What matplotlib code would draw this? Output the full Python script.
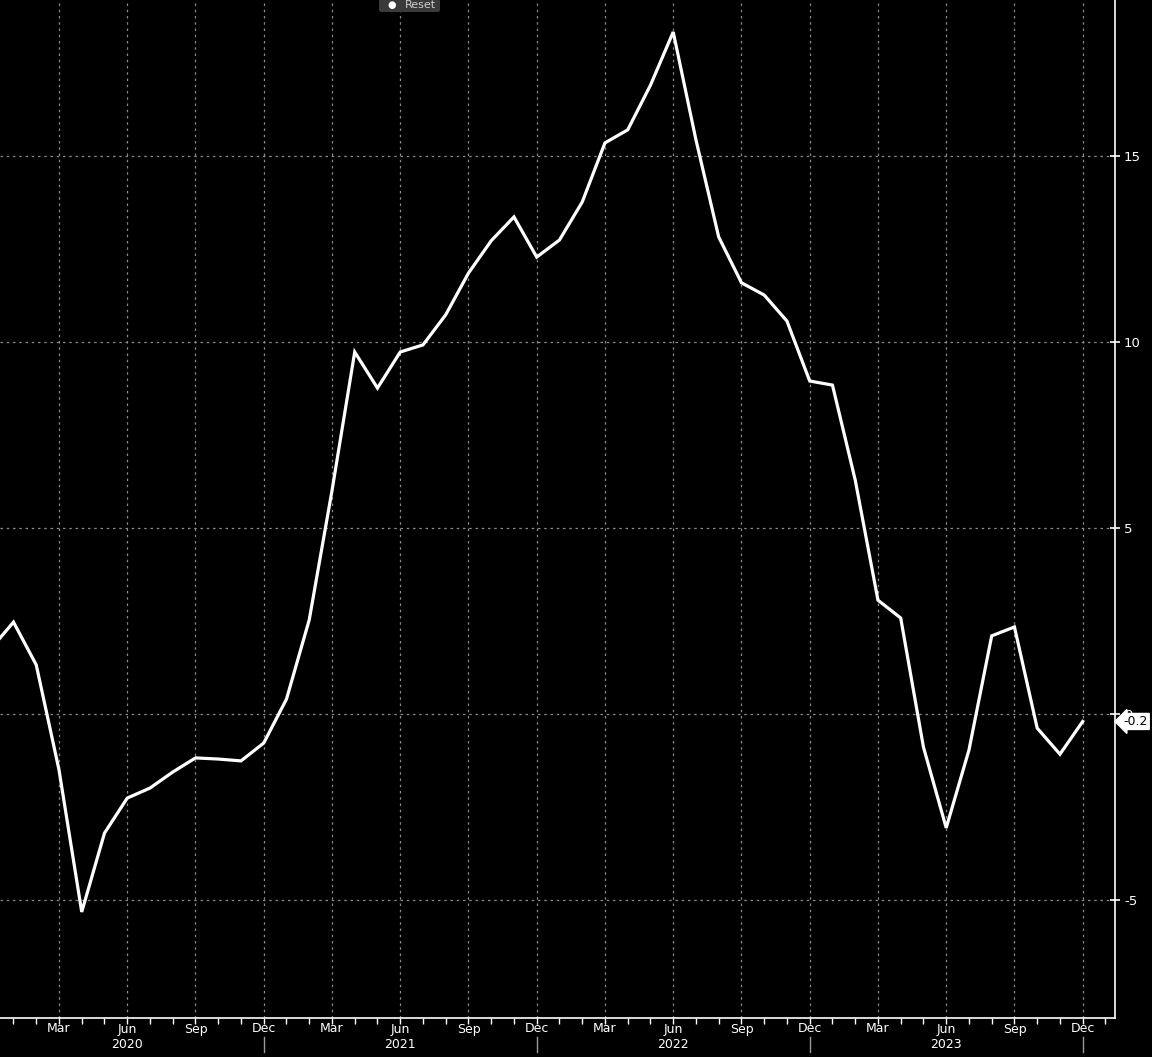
import matplotlib
matplotlib.use("Agg")
import matplotlib.pyplot as plt
from matplotlib.patches import FancyBboxPatch

# Monthly values, Dec 2019 .. Dec 2023
months = ["Dec 2019",
          "Jan 2020", "Feb 2020", "Mar 2020", "Apr 2020", "May 2020", "Jun 2020",
          "Jul 2020", "Aug 2020", "Sep 2020", "Oct 2020", "Nov 2020", "Dec 2020",
          "Jan 2021", "Feb 2021", "Mar 2021", "Apr 2021", "May 2021", "Jun 2021",
          "Jul 2021", "Aug 2021", "Sep 2021", "Oct 2021", "Nov 2021", "Dec 2021",
          "Jan 2022", "Feb 2022", "Mar 2022", "Apr 2022", "May 2022", "Jun 2022",
          "Jul 2022", "Aug 2022", "Sep 2022", "Oct 2022", "Nov 2022", "Dec 2022",
          "Jan 2023", "Feb 2023", "Mar 2023", "Apr 2023", "May 2023", "Jun 2023",
          "Jul 2023", "Aug 2023", "Sep 2023", "Oct 2023", "Nov 2023", "Dec 2023"]
values = [1.75,
          2.47, 1.32, -1.5, -5.32, -3.2, -2.26,
          -1.99, -1.56, -1.18, -1.21, -1.26, -0.78,
          0.4, 2.53, 6.0, 9.73, 8.76, 9.73,
          9.92, 10.73, 11.85, 12.72, 13.36, 12.28,
          12.74, 13.76, 15.35, 15.7, 16.9, 18.33,
          15.43, 12.82, 11.59, 11.26, 10.56, 8.95,
          8.84, 6.29, 3.06, 2.58, -0.89, -3.06,
          -0.97, 2.1, 2.34, -0.38, -1.08, -0.2]
y_ticks = [-5, 0, 5, 10, 15]
quarter_labels = ["Mar", "Jun", "Sep", "Dec"]
years = ["2020", "2021", "2022", "2023"]

W, H = 1152, 1057
fig = plt.figure(figsize=(W / 100, H / 100), dpi=100, facecolor="black")
ax = fig.add_axes([0, 39 / H, 1115 / W, 1 - 39 / H], facecolor="black")

x = list(range(-1, len(values) - 1))  # 0 = Jan 2020
ax.plot(x, values, color="white", lw=2.3, solid_joinstyle="miter", zorder=3)

XMIN, XMAX = -0.593, 48.42
ax.set_ylim(-8.17, 19.19)

# grid
qx = [m for m in range(0, 48) if m % 3 == 2]  # Mar, Jun, Sep, Dec
for q in qx:
    ax.axvline(q, color="#8a8a8a", lw=0.9, ls=(0, (2, 3)), zorder=1)
for yt in y_ticks:
    ax.axhline(yt, color="#8a8a8a", lw=0.9, ls=(0, (2, 3)), zorder=1)

# spines
for s in ["left", "top"]:
    ax.spines[s].set_visible(False)
ax.spines["right"].set_color("white")
ax.spines["bottom"].set_color("white")
ax.spines["right"].set_linewidth(1.2)
ax.spines["bottom"].set_linewidth(1.2)

# y ticks on the right
ax.yaxis.tick_right()
ax.set_yticks(y_ticks)
ax.set_yticklabels([str(v) for v in y_ticks], color="white", fontsize=9.5,
                   family="DejaVu Sans")
ax.tick_params(axis="y", direction="inout", length=7, width=1.2, color="white", pad=3)

# x ticks: monthly minor ticks, quarter labels
ax.set_xticks(list(range(0, 49)))
ax.set_xticklabels([])
ax.tick_params(axis="x", direction="out", length=4, width=1.0, color="white")
ax.set_xlim(XMIN, XMAX)
trans = ax.get_xaxis_transform()
for q in qx:
    lab = quarter_labels[(q - 2) // 3 % 4]
    ax.text(q, -11 / (H - 39), lab, transform=trans, color="white", fontsize=9,
            ha="center", va="center", family="DejaVu Sans", clip_on=False)
for i, yr in enumerate(years):
    jun = 5 + 12 * i
    ax.text(jun, -27 / (H - 39), yr, transform=trans, color="white", fontsize=9,
            ha="center", va="center", family="DejaVu Sans", clip_on=False)
    dec = 11 + 12 * i
    ax.plot([dec, dec], [-19 / (H - 39), -34 / (H - 39)], transform=trans,
            color="#9a9a9a", lw=1.0, clip_on=False, scalex=False, scaley=False)
ax.set_xlim(XMIN, XMAX)

# last value label
last = values[-1]
ax.annotate(f"{last:.1f}", xy=(1.0, last), xycoords=("axes fraction", "data"),
            xytext=(6, 0), textcoords="offset points", ha="left", va="center",
            color="black", fontsize=9, family="DejaVu Sans", zorder=5,
            bbox=dict(boxstyle="larrow,pad=0.12", fc="white", ec="white"),
            annotation_clip=False)

# Reset button
fig.patches.append(FancyBboxPatch((379 / W, 1 - 12 / H), 61 / W, 15 / H,
                                  boxstyle="round,pad=0,rounding_size=0.002",
                                  transform=fig.transFigure, fc="#3a3a3a",
                                  ec="none"))
fig.text(392 / W, 1 - 5 / H, "\u25cf", color="white", fontsize=7, ha="center",
         va="center")
fig.text(405 / W, 1 - 5 / H, "Reset", color="#d0d0d0", fontsize=8, ha="left",
         va="center")

fig.savefig("out.png", dpi=100, facecolor="black")
